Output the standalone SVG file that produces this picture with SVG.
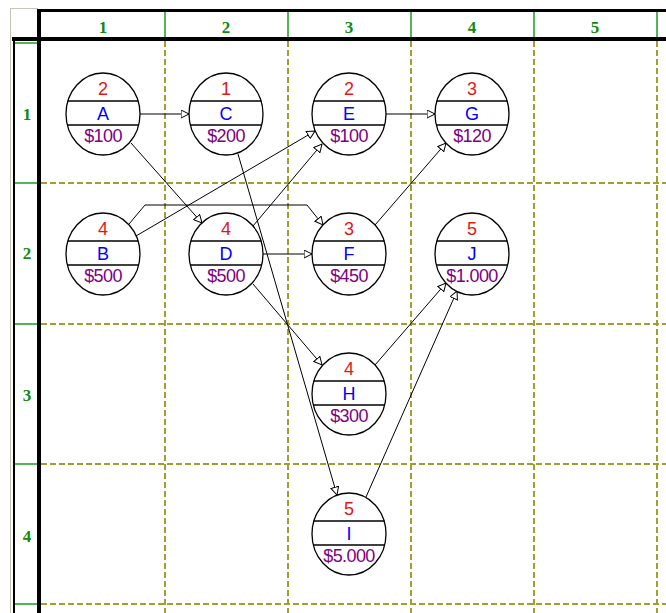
<svg xmlns="http://www.w3.org/2000/svg" width="666" height="613" viewBox="0 0 666 613">
<style>
.grid{stroke:#a0a030;stroke-width:2;stroke-dasharray:6 3;fill:none}
.hdr{stroke:#1f9a1f;stroke-width:1.5}
.thick{stroke:#000;fill:none}
.hnum{font-family:"Liberation Serif",serif;font-weight:bold;font-size:17px;fill:#108a10;text-anchor:middle}
.ell{fill:#fff;stroke:#000;stroke-width:1.3}
.sep{stroke:#000;stroke-width:1.5}
.t{font-family:"Liberation Sans",Arial,sans-serif;font-size:18px;text-anchor:middle}
.n{fill:#e01818}
.l{fill:#0000ff}
.c{fill:#800080;letter-spacing:-0.6px}
.e{stroke:#000;stroke-width:1;fill:none;marker-end:url(#ah)}
</style>
<defs>
<marker id="ah" markerUnits="userSpaceOnUse" viewBox="0 0 9 9" refX="8.5" refY="4.5" markerWidth="9" markerHeight="9" orient="auto">
<path d="M0.5,0.5 L8.5,4.5 L0.5,8.5 Z" fill="#fff" stroke="#000" stroke-width="1"/>
</marker>
</defs>
<rect x="0" y="0" width="666" height="613" fill="#fff"/>
<g id="grid">
<line class="grid" x1="165" y1="41" x2="165" y2="613"/>
<line class="grid" x1="288" y1="41" x2="288" y2="613"/>
<line class="grid" x1="411" y1="41" x2="411" y2="613"/>
<line class="grid" x1="534" y1="41" x2="534" y2="613"/>
<line class="grid" x1="657" y1="41" x2="657" y2="613"/>
<line class="grid" x1="41" y1="183" x2="666" y2="183"/>
<line class="grid" x1="41" y1="324" x2="666" y2="324"/>
<line class="grid" x1="41" y1="464" x2="666" y2="464"/>
<line class="grid" x1="41" y1="604" x2="666" y2="604"/>
</g>
<g id="headers">
<path d="M10,8.5 H38 M10.5,8 V613" stroke="#c8c4b8" stroke-width="1" fill="none"/>
<line class="thick" x1="38" y1="10.5" x2="666" y2="10.5" stroke-width="3"/>
<line class="thick" x1="12" y1="39" x2="666" y2="39" stroke-width="4"/>
<line class="thick" x1="39" y1="9" x2="39" y2="613" stroke-width="4"/>
<line class="thick" x1="14" y1="38" x2="14" y2="613" stroke-width="2"/>
<line class="hdr" x1="165" y1="12" x2="165" y2="37"/>
<line class="hdr" x1="288" y1="12" x2="288" y2="37"/>
<line class="hdr" x1="411" y1="12" x2="411" y2="37"/>
<line class="hdr" x1="534" y1="12" x2="534" y2="37"/>
<line class="hdr" x1="657" y1="12" x2="657" y2="37"/>
<line class="hdr" x1="15" y1="43" x2="37" y2="43"/>
<line class="hdr" x1="15" y1="183" x2="37" y2="183"/>
<line class="hdr" x1="15" y1="324" x2="37" y2="324"/>
<line class="hdr" x1="15" y1="464" x2="37" y2="464"/>
<line class="hdr" x1="15" y1="604" x2="37" y2="604"/>
<text class="hnum" x="103" y="33">1</text>
<text class="hnum" x="226" y="33">2</text>
<text class="hnum" x="349" y="33">3</text>
<text class="hnum" x="472" y="33">4</text>
<text class="hnum" x="595" y="33">5</text>
<text class="hnum" x="27" y="120">1</text>
<text class="hnum" x="27" y="259">2</text>
<text class="hnum" x="27" y="401">3</text>
<text class="hnum" x="27" y="542">4</text>
</g>
<g id="connectors">
<line class="e" x1="140" y1="114" x2="189" y2="114"/>
<line class="e" x1="131" y1="143" x2="202" y2="223"/>
<line class="e" x1="238" y1="154" x2="337" y2="495"/>
<line class="e" x1="136" y1="236" x2="315" y2="131"/>
<line class="e" x1="253" y1="226" x2="322" y2="144"/>
<polyline class="e" points="129,224 145,205 307,205 323,225"/>
<line class="e" x1="263" y1="254" x2="312" y2="254"/>
<line class="e" x1="253" y1="284" x2="322" y2="365"/>
<line class="e" x1="386" y1="114" x2="435" y2="114"/>
<line class="e" x1="375" y1="225" x2="446" y2="143"/>
<line class="e" x1="375" y1="365" x2="446" y2="283"/>
<line class="e" x1="366" y1="497" x2="457" y2="291"/>
</g>
<g id="A"><ellipse class="ell" cx="103" cy="114" rx="37" ry="41"/><line class="sep" x1="67.6" y1="101" x2="138.4" y2="101"/><line class="sep" x1="67.3" y1="125" x2="138.7" y2="125"/><text class="t n" x="103" y="95">2</text><text class="t l" x="103" y="120">A</text><text class="t c" x="103" y="142">$100</text></g>
<g id="C"><ellipse class="ell" cx="226" cy="114" rx="37" ry="41"/><line class="sep" x1="190.6" y1="101" x2="261.4" y2="101"/><line class="sep" x1="190.3" y1="125" x2="261.7" y2="125"/><text class="t n" x="226" y="95">1</text><text class="t l" x="226" y="120">C</text><text class="t c" x="226" y="142">$200</text></g>
<g id="E"><ellipse class="ell" cx="349" cy="114" rx="37" ry="41"/><line class="sep" x1="313.6" y1="101" x2="384.4" y2="101"/><line class="sep" x1="313.3" y1="125" x2="384.7" y2="125"/><text class="t n" x="349" y="95">2</text><text class="t l" x="349" y="120">E</text><text class="t c" x="349" y="142">$100</text></g>
<g id="G"><ellipse class="ell" cx="472" cy="114" rx="37" ry="41"/><line class="sep" x1="436.6" y1="101" x2="507.4" y2="101"/><line class="sep" x1="436.3" y1="125" x2="507.7" y2="125"/><text class="t n" x="472" y="95">3</text><text class="t l" x="472" y="120">G</text><text class="t c" x="472" y="142">$120</text></g>
<g id="B"><ellipse class="ell" cx="103" cy="254" rx="37" ry="41"/><line class="sep" x1="67.6" y1="241" x2="138.4" y2="241"/><line class="sep" x1="67.3" y1="265" x2="138.7" y2="265"/><text class="t n" x="103" y="235">4</text><text class="t l" x="103" y="260">B</text><text class="t c" x="103" y="282">$500</text></g>
<g id="D"><ellipse class="ell" cx="226" cy="254" rx="37" ry="41"/><line class="sep" x1="190.6" y1="241" x2="261.4" y2="241"/><line class="sep" x1="190.3" y1="265" x2="261.7" y2="265"/><text class="t n" x="226" y="235">4</text><text class="t l" x="226" y="260">D</text><text class="t c" x="226" y="282">$500</text></g>
<g id="F"><ellipse class="ell" cx="349" cy="254" rx="37" ry="41"/><line class="sep" x1="313.6" y1="241" x2="384.4" y2="241"/><line class="sep" x1="313.3" y1="265" x2="384.7" y2="265"/><text class="t n" x="349" y="235">3</text><text class="t l" x="349" y="260">F</text><text class="t c" x="349" y="282">$450</text></g>
<g id="J"><ellipse class="ell" cx="472" cy="254" rx="37" ry="41"/><line class="sep" x1="436.6" y1="241" x2="507.4" y2="241"/><line class="sep" x1="436.3" y1="265" x2="507.7" y2="265"/><text class="t n" x="472" y="235">5</text><text class="t l" x="472" y="260">J</text><text class="t c" x="472" y="282">$1.000</text></g>
<g id="H"><ellipse class="ell" cx="349" cy="394" rx="37" ry="41"/><line class="sep" x1="313.6" y1="381" x2="384.4" y2="381"/><line class="sep" x1="313.3" y1="405" x2="384.7" y2="405"/><text class="t n" x="349" y="375">4</text><text class="t l" x="349" y="400">H</text><text class="t c" x="349" y="422">$300</text></g>
<g id="I"><ellipse class="ell" cx="349" cy="534" rx="37" ry="41"/><line class="sep" x1="313.6" y1="521" x2="384.4" y2="521"/><line class="sep" x1="313.3" y1="545" x2="384.7" y2="545"/><text class="t n" x="349" y="515">5</text><text class="t l" x="349" y="540">I</text><text class="t c" x="349" y="562">$5.000</text></g>
</svg>
